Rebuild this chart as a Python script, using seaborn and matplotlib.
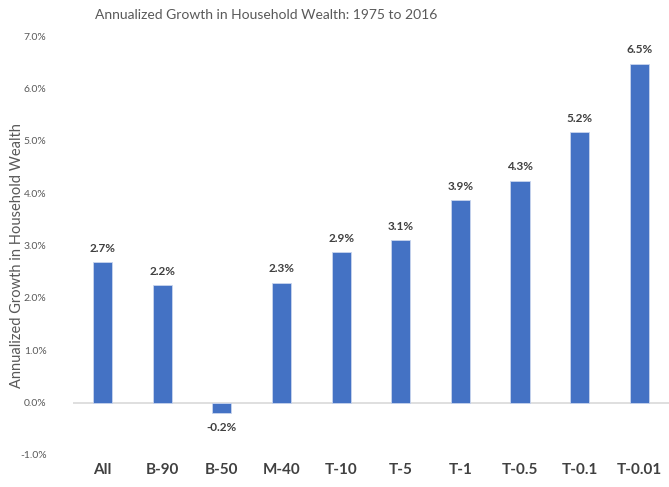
import matplotlib
matplotlib.use("Agg")
import matplotlib.pyplot as plt
from matplotlib.ticker import FuncFormatter, MultipleLocator
import seaborn as sns
import pandas as pd

groups = ["All", "B-90", "B-50", "M-40", "T-10", "T-5", "T-1", "T-0.5", "T-0.1", "T-0.01"]
growth = [2.68, 2.24, -0.21, 2.29, 2.87, 3.10, 3.87, 4.24, 5.17, 6.47]
labels = ["2.7%", "2.2%", "-0.2%", "2.3%", "2.9%", "3.1%", "3.9%", "4.3%", "5.2%", "6.5%"]

sns.set_theme(style="white")
plt.rcParams["font.family"] = ["Lato", "DejaVu Sans"]

df = pd.DataFrame({"group": groups, "growth": growth})

fig = plt.figure(figsize=(6.69, 4.87), dpi=100)
ax = fig.add_axes([0.109, 0.066, 0.891, 0.86])

sns.barplot(data=df, x="group", y="growth", color="#4472C4", saturation=1,
            width=0.32, edgecolor="#C9D5EE", linewidth=0.6, ax=ax)

ax.set_xlim(-0.5, len(groups) - 0.5)
ax.set_ylim(-1.0, 7.0)
ax.yaxis.set_major_locator(MultipleLocator(1.0))
ax.yaxis.set_major_formatter(FuncFormatter(lambda v, _: f"{v:.1f}%"))
ax.axhline(0, color="#D9D9D9", lw=1.2, zorder=0.5)

for side in ["top", "right", "left", "bottom"]:
    ax.spines[side].set_visible(False)

ax.tick_params(axis="y", length=0, pad=19, labelsize=7.5, labelcolor="#595959")
ax.tick_params(axis="x", length=0, pad=6, labelsize=11, labelcolor="#404040")
for t in ax.get_xticklabels():
    t.set_fontweight("bold")

for i, (v, lab) in enumerate(zip(growth, labels)):
    if v >= 0:
        ax.annotate(lab, (i, v), xytext=(0, 6), textcoords="offset points",
                    ha="center", va="bottom", fontsize=8.5, fontweight="bold", color="#404040")
    else:
        ax.annotate(lab, (i, v), xytext=(0, -6), textcoords="offset points",
                    ha="center", va="top", fontsize=8.5, fontweight="bold", color="#404040")

ax.set_xlabel("")
ax.set_ylabel("Annualized Growth in Household Wealth", fontsize=10.5, color="#595959")
ax.yaxis.set_label_coords(-0.082, 0.475)
fig.suptitle("Annualized Growth in Household Wealth: 1975 to 2016", x=0.398, y=0.982,
             fontsize=10, color="#595959")

fig.savefig("out.png", dpi=100)
